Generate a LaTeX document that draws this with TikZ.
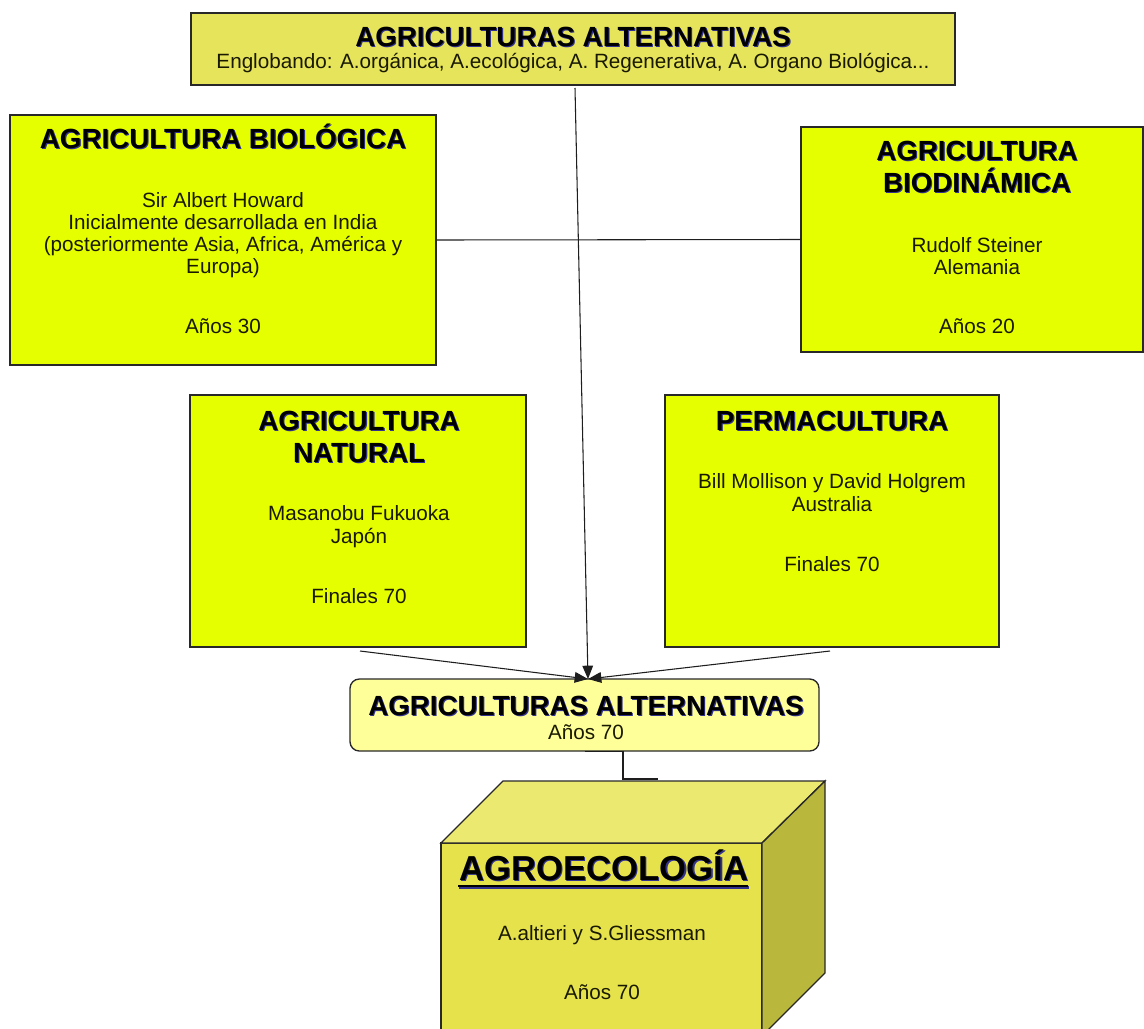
\documentclass[tikz,border=0pt]{standalone}
\usepackage{fontspec}
\setmainfont{Liberation Sans}
\usetikzlibrary{fit,arrows.meta}
\definecolor{limebox}{RGB}{229,255,0}
\definecolor{topfill}{RGB}{230,228,90}
\definecolor{altfill}{RGB}{255,255,153}
\definecolor{cubefront}{RGB}{230,226,76}
\definecolor{cubetopc}{RGB}{236,233,112}
\definecolor{cubeside}{RGB}{185,183,60}
\definecolor{boxline}{RGB}{40,40,40}
\definecolor{connline}{RGB}{30,30,30}
\definecolor{shadowblue}{RGB}{50,50,140}
\definecolor{textdark}{RGB}{25,25,0}
\newcommand\ttltext[4]{%
  \node[ttlsh] (#3-sh) at (#1+1.1,#2+1.1) {#4};
  \node[ttl] (#3) at (#1,#2) {#4};}
\begin{document}
\begin{tikzpicture}[x=0.75pt,y=-0.75pt,
  box/.style={draw=boxline,line width=1pt,fill=limebox,inner sep=0pt},
  ttl/.style={font=\fontsize{20.8}{24}\selectfont\bfseries,anchor=base,inner sep=0pt,text=black},
  ttlsh/.style={ttl,text=shadowblue},
  bdy/.style={font=\fontsize{15.5}{17}\selectfont,anchor=base,inner sep=0pt,text=textdark},
  conn/.style={line width=0.8pt,draw=connline},
  arr/.style={conn,-{Triangle[length=10pt,width=8pt]}}]
\useasboundingbox (0,0) rectangle (1144,1028);
\clip (0,0) rectangle (1144,1028);

% boxes
\node[box,fill=topfill,fit={(191,13) (955,85)}] (top) {};
\node[box,fit={(10,115) (436,365)}] (bio) {};
\node[box,fit={(801,127) (1143,352)}] (biod) {};
\node[box,fit={(190,395) (526,647)}] (nat) {};
\node[box,fit={(665,395) (999,647)}] (perm) {};
\node[box,fill=altfill,rounded corners=7pt,fit={(350,679) (819,751)}] (alt) {};

% cube
\fill[cubefront,draw=boxline,line width=1pt] (441,843) rectangle (762,1040);
\fill[cubetopc,draw=boxline,line width=1pt] (441,843) -- (503,781) -- (825,781) -- (762,843) -- cycle;
\fill[cubeside,draw=boxline,line width=1pt] (762,843) -- (825,781) -- (825,973) -- (762,1036) -- cycle;

% texts: top
\ttltext{573}{46}{topt}{AGRICULTURAS ALTERNATIVAS}
\node[bdy] (tops) at (573,68) {Englobando: A.orgánica, A.ecológica, A. Regenerativa, A. Organo Biológica...};

% biologica
\ttltext{223}{148}{biot}{AGRICULTURA BIOLÓGICA}
\node[bdy] (bio1) at (223,207) {Sir Albert Howard};
\node[bdy] (bio2) at (223,229) {Inicialmente desarrollada en India};
\node[bdy] (bio3) at (223,251) {(posteriormente Asia, Africa, América y};
\node[bdy] (bio4) at (223,273) {Europa)};
\node[bdy] (bio5) at (223,333) {Años 30};

% biodinamica
\ttltext{977}{160}{biodt1}{AGRICULTURA}
\ttltext{977}{192}{biodt2}{BIODINÁMICA}
\node[bdy] (biod1) at (977,252) {Rudolf Steiner};
\node[bdy] (biod2) at (977,274) {Alemania};
\node[bdy] (biod3) at (977,333) {Años 20};

% natural
\ttltext{359}{430}{natt1}{AGRICULTURA}
\ttltext{359}{462}{natt2}{NATURAL}
\node[bdy] (nat1) at (359,520) {Masanobu Fukuoka};
\node[bdy] (nat2) at (359,543) {Japón};
\node[bdy] (nat3) at (359,603) {Finales 70};

% permacultura
\ttltext{832}{430}{permt}{PERMACULTURA}
\node[bdy] (perm1) at (832,488) {Bill Mollison y David Holgrem};
\node[bdy] (perm2) at (832,511) {Australia};
\node[bdy] (perm3) at (832,571) {Finales 70};

% alternativas 70
\ttltext{586}{715}{altt}{AGRICULTURAS ALTERNATIVAS}
\node[bdy] (alt1) at (586,739) {Años 70};

% agroecologia
\node[font=\fontsize{26}{30}\selectfont\bfseries,anchor=base,inner sep=0pt,text=shadowblue] (agro-sh) at (605.2,881.2) {AGROECOLOGÍA};
\node[font=\fontsize{26}{30}\selectfont\bfseries,anchor=base,inner sep=0pt] (agro) at (604,880) {AGROECOLOGÍA};
\draw[line width=2.2pt,shadowblue] (459.2,887.2) -- (749.2,887.2);
\draw[line width=2.2pt,black] (458,886) -- (748,886);
\node[bdy] (agro1) at (602,940) {A.altieri y S.Gliessman};
\node[bdy] (agro2) at (602,999) {Años 70};

% connectors
\coordinate (vstart) at (575,88);
\coordinate (tip) at (588,679);
\coordinate (nstart) at (360,651);
\coordinate (pstart) at (830,651);
\coordinate (c1) at (623,779);
\coordinate (cubetop) at (658,779);
\draw[conn] (bio.east) -- (biod.west);
\draw[arr] (vstart) -- (tip);
\draw[arr] (nstart) -- (tip);
\draw[arr] (pstart) -- (tip);
\draw[conn,line width=1pt] (alt.south) -| (c1) -- (cubetop);
\end{tikzpicture}
\end{document}
